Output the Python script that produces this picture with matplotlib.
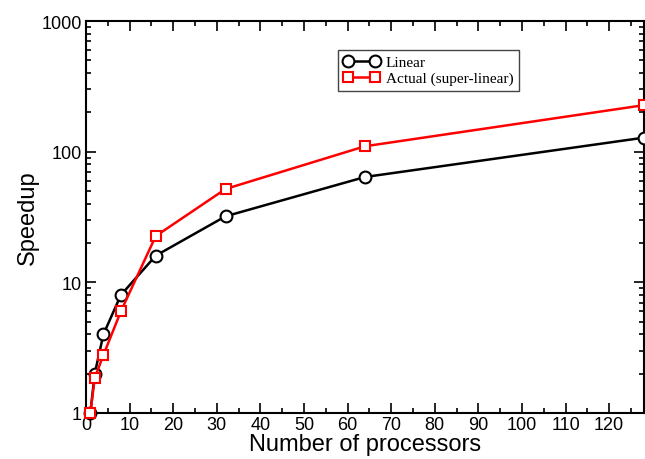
import matplotlib
matplotlib.use("Agg")
import matplotlib.pyplot as plt
from matplotlib.ticker import MultipleLocator, LogLocator, NullFormatter, FixedFormatter, FixedLocator

procs = [1, 2, 4, 8, 16, 32, 64, 128]
linear = [1, 2, 4, 8, 16, 32, 64, 128]
actual = [1, 1.85, 2.78, 6.0, 22.6, 51.8, 110, 227]
ytick_vals = [1, 10, 100, 1000]
ytick_labels = ["1", "10", "100", "1000"]

plt.rcParams['font.family'] = ['Liberation Sans', 'DejaVu Sans']

fig = plt.figure(figsize=(6.45, 4.6), dpi=100)
ax = fig.add_axes([86/645, 46/460, 558/645, 392/460])

ax.plot(procs, linear, '-o', color='black', lw=1.8, ms=8.5, mfc='white', mec='black',
        mew=1.5, label='Linear', clip_on=False, zorder=3)
ax.plot(procs, actual, '-s', color='#ff0000', lw=1.8, ms=7, mfc='white', mec='#ff0000',
        mew=1.5, label='Actual (super-linear)', clip_on=False, zorder=4)

ax.set_yscale('log')
ax.set_xlim(0, 128)
ax.set_ylim(1, 1000)
ax.xaxis.set_major_locator(MultipleLocator(10))
ax.xaxis.set_minor_locator(MultipleLocator(5))
ax.yaxis.set_major_locator(FixedLocator(ytick_vals))
ax.yaxis.set_major_formatter(FixedFormatter(ytick_labels))
ax.yaxis.set_minor_locator(LogLocator(base=10, subs=range(2, 10)))
ax.yaxis.set_minor_formatter(NullFormatter())

ax.tick_params(which='both', direction='in', top=True, right=True, labelsize=13, width=1.2)
ax.tick_params(which='major', length=7, pad=2)
ax.tick_params(axis='y', which='major', pad=3)
ax.tick_params(which='minor', length=3.5)
for s in ax.spines.values():
    s.set_linewidth(1.5)

ax.set_xlabel('Number of processors', fontsize=17, labelpad=0)
ax.set_ylabel('Speedup', fontsize=17, labelpad=2)

leg = ax.legend(loc='upper left', bbox_to_anchor=(0.451, 0.926), frameon=True, fancybox=False,
                edgecolor='#444444', framealpha=1, prop={'family': 'Liberation Serif', 'size': 11},
                numpoints=2, handlelength=2.4, handletextpad=0.4, borderpad=0.35,
                labelspacing=0.15, borderaxespad=0)
leg.get_frame().set_linewidth(1.0)

fig.savefig('out.png', dpi=100)
